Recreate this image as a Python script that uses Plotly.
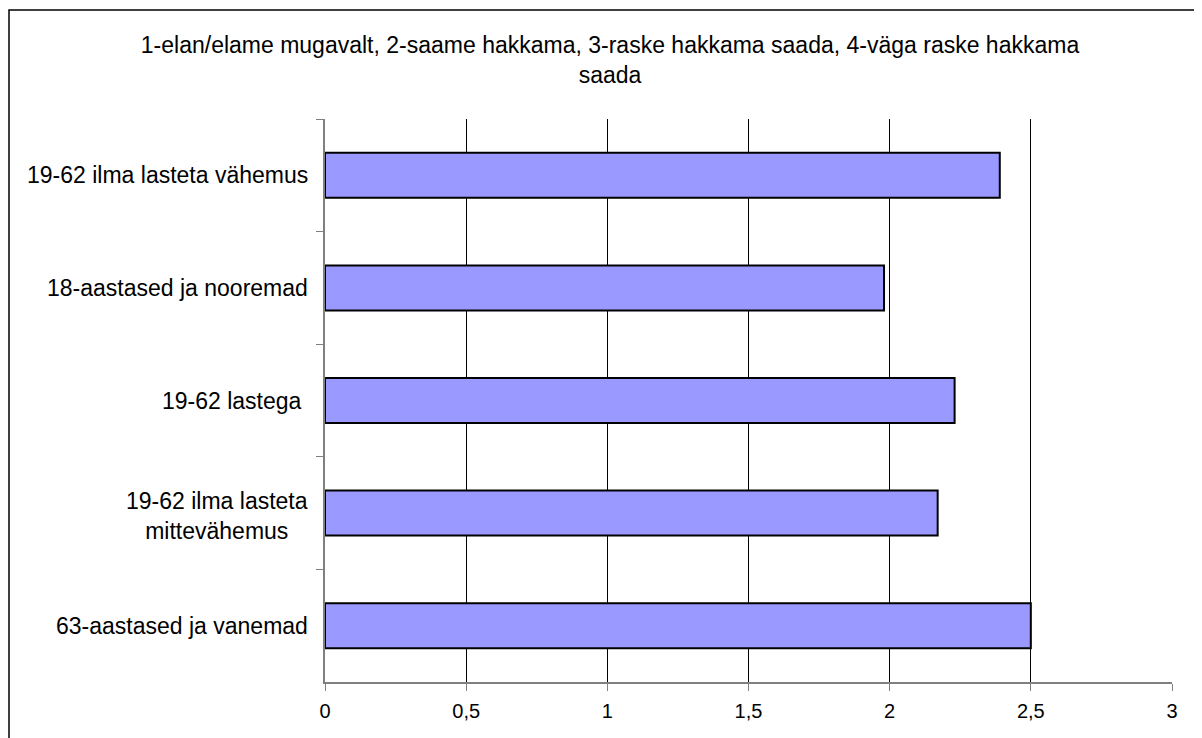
import plotly.graph_objects as go

categories = [
    "19-62 ilma lasteta vähemus",
    "18-aastased ja nooremad",
    "19-62 lastega ",
    "19-62 ilma lasteta<br>mittevähemus",
    "63-aastased ja vanemad",
]
values = [2.39, 1.98, 2.23, 2.17, 2.50]
x_ticks = [0, 0.5, 1, 1.5, 2, 2.5, 3]
title_text = "1-elan/elame mugavalt, 2-saame hakkama, 3-raske hakkama saada, 4-väga raske hakkama<br>saada"

FONT = "Liberation Sans, Arial, sans-serif"

fig = go.Figure()
fig.add_trace(go.Bar(
    y=categories,
    x=values,
    orientation="h",
    width=0.4,
    marker=dict(color="#9999FF", line=dict(color="black", width=2)),
    hoverinfo="x+y",
))

annotations = []
for c in categories:
    annotations.append(dict(
        x=0, xref="x", y=c, yref="y",
        text=c, showarrow=False,
        xanchor="right", yanchor="middle", align="center",
        xshift=-15, yshift=-3 if "<br>" in c else 0,
        font=dict(family=FONT, size=23, color="black"),
    ))

# page offset (body margin) of 8px compensated in margins
fig.update_layout(
    width=1202, height=738,
    margin=dict(l=317, r=38, t=111, b=64),
    paper_bgcolor="white", plot_bgcolor="white",
    separators=", ",
    showlegend=False,
    title=dict(
        text=title_text,
        x=(610 - 8) / 1202, xanchor="center",
        y=1 - 45 / 738, yanchor="top", yref="container",
        font=dict(family=FONT, size=23, color="black"),
    ),
    annotations=annotations,
    shapes=[dict(
        type="rect", xref="paper", yref="paper",
        x0=(9 - 325) / 847, x1=(1195 - 325) / 847,
        y0=(682 - 760) / 563, y1=(682 - 10) / 563,
        line=dict(color="black", width=1.5), fillcolor="rgba(0,0,0,0)",
        layer="below",
    )],
    xaxis=dict(
        range=[0, 3], tickvals=x_ticks,
        ticks="outside", ticklen=7, tickcolor="#808080",
        showline=True, linecolor="#808080", linewidth=2,
        showgrid=True, gridcolor="black", gridwidth=1,
        zeroline=False,
        tickfont=dict(family=FONT, size=20, color="black"),
        ticklabelstandoff=3,
    ),
    yaxis=dict(
        categoryorder="array", categoryarray=categories,
        autorange="reversed",
        tickson="boundaries",
        ticks="outside", ticklen=7, tickcolor="#808080",
        showline=True, linecolor="#808080", linewidth=1.5,
        showgrid=False, zeroline=False,
        showticklabels=False,
    ),
)

fig.write_html("out.html")
